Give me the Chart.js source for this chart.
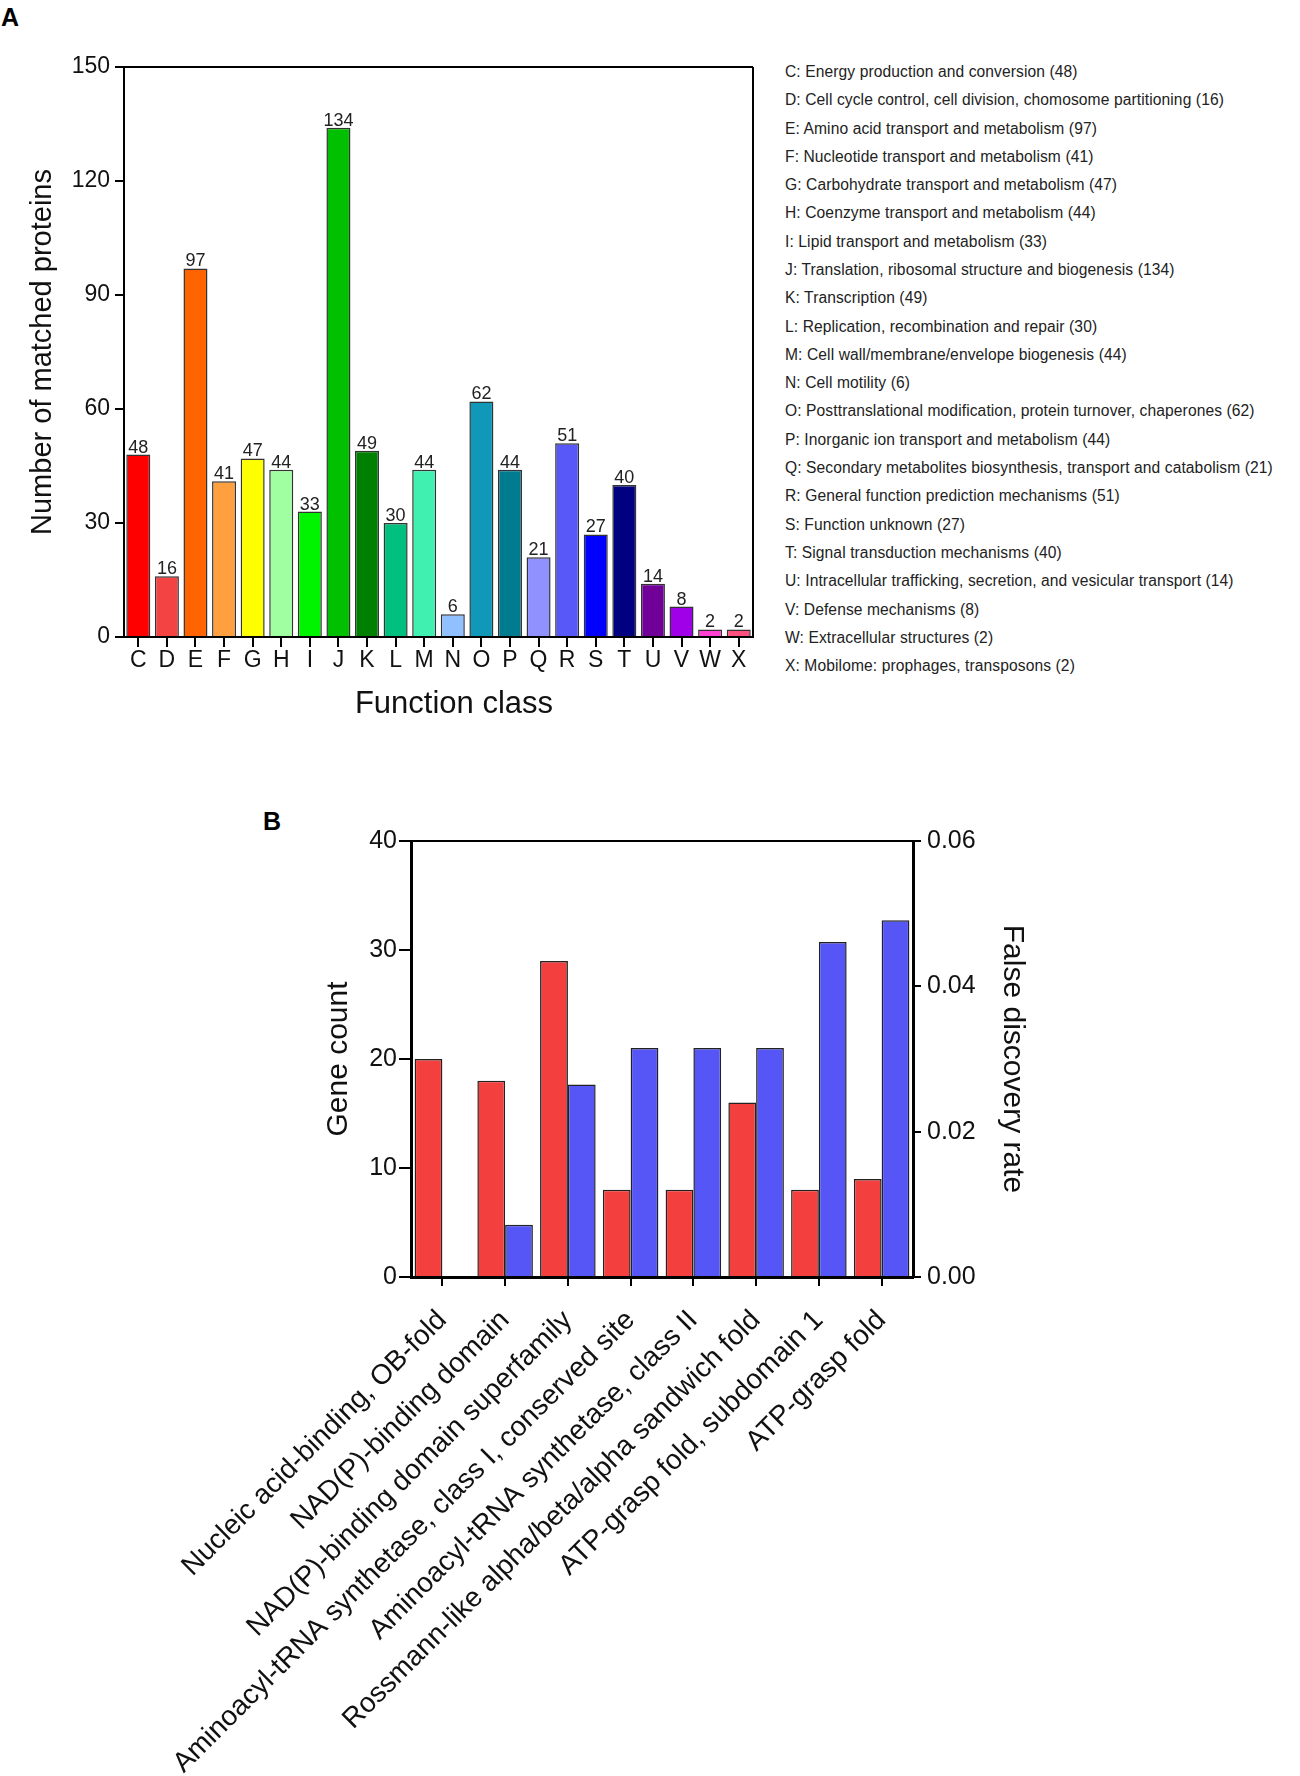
<!DOCTYPE html>
<html>
<head>
<meta charset="utf-8">
<script src="https://cdn.jsdelivr.net/npm/chart.js@4.4.1/dist/chart.umd.min.js"></script>
<style>
  html, body { margin: 0; padding: 0; background: #fff; }
  body { width: 1300px; height: 1776px; position: relative; overflow: hidden; font-family: "Liberation Sans", Arial, sans-serif; }
  canvas { position: absolute; }
  #chartA { left: 0; top: 0; }
  #chartB { left: 0; top: 780px; }
  .panel { position: absolute; font-weight: bold; font-size: 25px; color: #000; }
  #legendA div { position: absolute; left: 785px; font-size: 15.6px; line-height: 20px; color: #222; white-space: nowrap; letter-spacing: 0.1px; }
</style>
</head>
<body>
<div class="panel" style="left:1px;top:3px">A</div>
<div class="panel" style="left:263px;top:807px">B</div>
<canvas id="chartA" width="780" height="780"></canvas>
<div id="legendA"></div>
<canvas id="chartB" width="1300" height="996"></canvas>
<script>
// Panel A - COG function classes
const classCodes = ['C', 'D', 'E', 'F', 'G', 'H', 'I', 'J', 'K', 'L', 'M', 'N', 'O', 'P', 'Q', 'R', 'S', 'T', 'U', 'V', 'W', 'X'];
const classNames = [
    'Energy production and conversion',
    'Cell cycle control, cell division, chomosome partitioning',
    'Amino acid transport and metabolism',
    'Nucleotide transport and metabolism',
    'Carbohydrate transport and metabolism',
    'Coenzyme transport and metabolism',
    'Lipid transport and metabolism',
    'Translation, ribosomal structure and biogenesis',
    'Transcription',
    'Replication, recombination and repair',
    'Cell wall/membrane/envelope biogenesis',
    'Cell motility',
    'Posttranslational modification, protein turnover, chaperones',
    'Inorganic ion transport and metabolism',
    'Secondary metabolites biosynthesis, transport and catabolism',
    'General function prediction mechanisms',
    'Function unknown',
    'Signal transduction mechanisms',
    'Intracellular trafficking, secretion, and vesicular transport',
    'Defense mechanisms',
    'Extracellular structures',
    'Mobilome: prophages, transposons'
];
const classCounts = [48, 16, 97, 41, 47, 44, 33, 134, 49, 30, 44, 6, 62, 44, 21, 51, 27, 40, 14, 8, 2, 2];
const countTicksA = [0, 30, 60, 90, 120, 150];

// Panel B - domains
const domainLabels = [
    'Nucleic acid-binding, OB-fold',
    'NAD(P)-binding domain',
    'NAD(P)-binding domain superfamily',
    'Aminoacyl-tRNA synthetase, class I, conserved site',
    'Aminoacyl-tRNA synthetase, class II',
    'Rossmann-like alpha/beta/alpha sandwich fold',
    'ATP-grasp fold, subdomain 1',
    'ATP-grasp fold'
];
const geneCounts = [20, 18, 29, 8, 8, 16, 8, 9];
const fdrValues = [0, 0.0072, 0.0265, 0.0315, 0.0315, 0.0315, 0.0461, 0.0491];
const geneTicks = [0, 10, 20, 30, 40];
const fdrTicks = [0, 0.02, 0.04, 0.06];

// colours
const classColors = [
    '#ff0000', '#f44343', '#ff6400', '#ffa040', '#ffff00', '#a0ffa0',
    '#00f400', '#00c000', '#008000', '#00c080', '#40f0b0', '#90c0ff',
    '#1098b8', '#007b90', '#9090ff', '#5858f8', '#0000ff', '#000080',
    '#700098', '#a000e8', '#ff40d0', '#ff5080'
];
const countColor = '#f43f3f';
const fdrColor = '#5656f6';

const FONT = '"Liberation Sans", Arial, sans-serif';
Chart.defaults.font.family = FONT;
Chart.defaults.color = '#111';

// legend text for panel A
const legendA = document.getElementById('legendA');
classCodes.forEach((code, i) => {
    const row = document.createElement('div');
    row.textContent = `${code}: ${classNames[i]} (${classCounts[i]})`;
    row.style.top = (62 + i * 28.29) + 'px';
    legendA.appendChild(row);
});

const axisGrid = len => ({
    display: true,
    drawOnChartArea: false,
    offset: false,
    drawTicks: true,
    tickLength: len,
    color: '#000',
    lineWidth: 2
});
const axisBorder = { display: true, color: '#000', width: 2 };

// number on top of each bar
const barValueLabels = {
    id: 'barValueLabels',
    afterDatasetsDraw(chart) {
        const ctx = chart.ctx;
        const values = chart.data.datasets[0].data;
        ctx.save();
        ctx.font = '18px ' + FONT;
        ctx.fillStyle = '#222';
        ctx.textAlign = 'center';
        ctx.textBaseline = 'alphabetic';
        chart.getDatasetMeta(0).data.forEach((bar, i) => {
            ctx.fillText(String(values[i]), bar.x, bar.y - 2);
        });
        ctx.restore();
    }
};

// top (and right) frame lines
const frameLines = withRight => ({
    id: 'frameLines',
    afterDraw(chart) {
        const { ctx, chartArea: a } = chart;
        ctx.save();
        ctx.strokeStyle = '#000';
        ctx.lineWidth = 2;
        ctx.beginPath();
        ctx.moveTo(a.left, a.top);
        ctx.lineTo(a.right, a.top);
        if (withRight) {
            ctx.moveTo(a.right, a.top);
            ctx.lineTo(a.right, a.bottom);
        }
        ctx.stroke();
        ctx.restore();
    }
});

new Chart(document.getElementById('chartA'), {
    type: 'bar',
    data: {
        labels: classCodes,
        datasets: [{
            data: classCounts,
            backgroundColor: classColors,
            borderColor: '#333',
            borderWidth: 1.5,
            categoryPercentage: 1,
            barPercentage: 0.84
        }]
    },
    options: {
        responsive: false,
        animation: false,
        devicePixelRatio: 1,
        layout: { padding: { top: 67, right: 27, left: 0, bottom: 0 } },
        plugins: { legend: { display: false }, tooltip: { enabled: false } },
        scales: {
            x: {
                afterFit: s => { s.height = 143; },
                grid: axisGrid(10),
                border: axisBorder,
                ticks: { font: { size: 23 }, color: '#111', padding: 0, autoSkip: false, maxRotation: 0 },
                title: { display: true, text: '\u2002\u2002Function class', font: { size: 31 }, color: '#111', padding: { top: 0, bottom: 57 } }
            },
            y: {
                min: 0,
                max: 150,
                afterFit: s => { s.width = 124; },
                afterBuildTicks: s => { s.ticks = countTicksA.map(v => ({ value: v })); },
                grid: axisGrid(9),
                border: axisBorder,
                ticks: { font: { size: 23 }, color: '#111', padding: 5 },
                title: { display: true, text: 'Number of matched proteins', font: { size: 29 }, color: '#111', padding: { top: 26, bottom: 0 } }
            }
        }
    },
    plugins: [barValueLabels, frameLines(true)]
});

new Chart(document.getElementById('chartB'), {
    type: 'bar',
    data: {
        labels: domainLabels,
        datasets: [{
            label: 'Gene count',
            data: geneCounts,
            yAxisID: 'y',
            backgroundColor: countColor,
            borderColor: '#222',
            borderWidth: 1.5,
            categoryPercentage: 0.885,
            barPercentage: 1
        }, {
            label: 'False discovery rate',
            data: fdrValues,
            yAxisID: 'y1',
            backgroundColor: fdrColor,
            borderColor: '#222',
            borderWidth: 1.5,
            categoryPercentage: 0.885,
            barPercentage: 1
        }]
    },
    options: {
        responsive: false,
        animation: false,
        devicePixelRatio: 1,
        layout: { padding: { top: 61, left: 300, right: 270, bottom: 0 } },
        plugins: { legend: { display: false }, tooltip: { enabled: false } },
        scales: {
            x: {
                afterFit: s => { s.height = 499; },
                grid: axisGrid(9),
                border: { display: true, color: '#000', width: 3 },
                ticks: { font: { size: 28 }, color: '#111', padding: 18, autoSkip: false, minRotation: 45, maxRotation: 45 }
            },
            y: {
                position: 'left',
                min: 0,
                max: 40,
                afterFit: s => { s.width = 111; },
                afterBuildTicks: s => { s.ticks = geneTicks.map(v => ({ value: v })); },
                grid: axisGrid(12),
                border: { display: true, color: '#000', width: 3 },
                ticks: { font: { size: 25 }, color: '#111', padding: 2 },
                title: { display: true, text: 'Gene count', font: { size: 30 }, color: '#111', padding: { top: 21, bottom: 0 } }
            },
            y1: {
                position: 'right',
                min: 0,
                max: 0.06,
                afterFit: s => { s.width = 117; },
                afterBuildTicks: s => { s.ticks = fdrTicks.map(v => ({ value: v })); },
                grid: axisGrid(8),
                border: { display: true, color: '#000', width: 3 },
                ticks: { font: { size: 25 }, color: '#111', padding: 6, callback: v => Number(v).toFixed(2) },
                title: { display: true, text: 'False discovery rate', font: { size: 30 }, color: '#111', padding: { top: 0, bottom: 0 } }
            }
        }
    },
    plugins: [frameLines(false)]
});
</script>
</body>
</html>
